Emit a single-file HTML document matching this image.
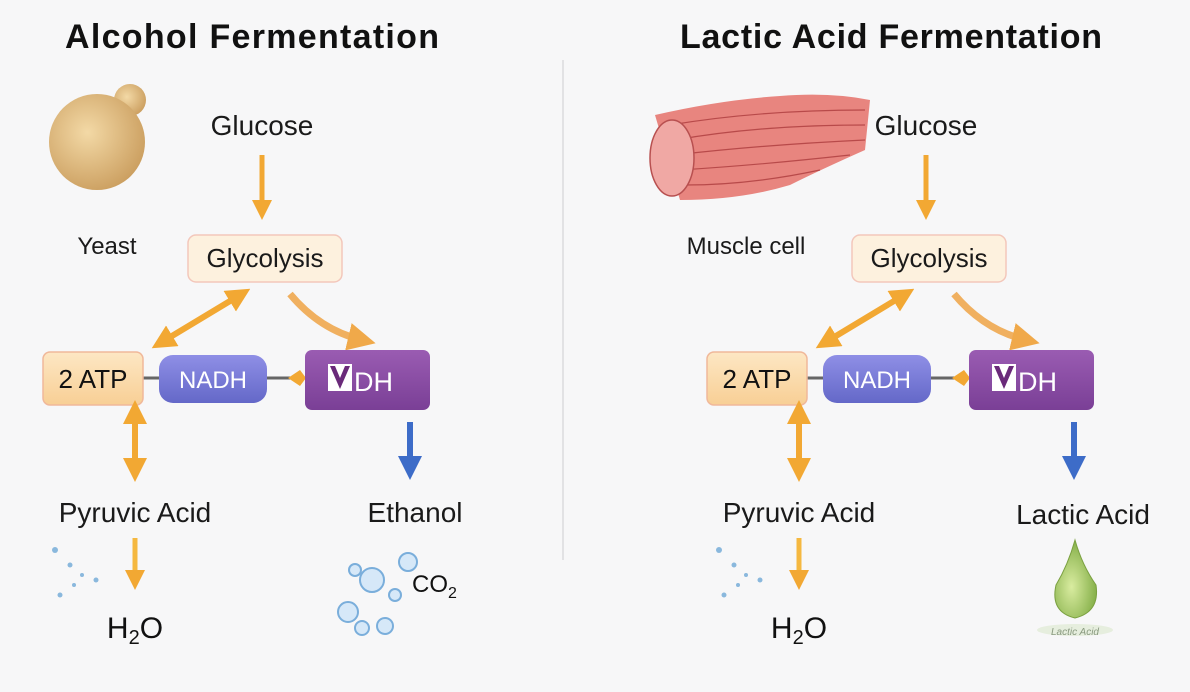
<!DOCTYPE html>
<html><head><meta charset="utf-8"><style>
html,body{margin:0;padding:0;background:#f7f7f8;}
svg{display:block;font-family:"Liberation Sans","DejaVu Sans",sans-serif;}
</style></head><body>
<svg width="1190" height="692" viewBox="0 0 1190 692" xmlns="http://www.w3.org/2000/svg">
<defs>
<linearGradient id="atp" x1="0" y1="0" x2="0" y2="1"><stop offset="0" stop-color="#fde7c4"/><stop offset="1" stop-color="#f8cf95"/></linearGradient>
<linearGradient id="nadh" x1="0" y1="0" x2="0" y2="1"><stop offset="0" stop-color="#8f8fe6"/><stop offset="1" stop-color="#6468c8"/></linearGradient>
<linearGradient id="vdh" x1="0" y1="0" x2="0" y2="1"><stop offset="0" stop-color="#9a5cb2"/><stop offset="1" stop-color="#7a3f96"/></linearGradient>
<radialGradient id="yeast" cx="0.4" cy="0.4" r="0.7"><stop offset="0" stop-color="#f3d9a6"/><stop offset="1" stop-color="#c89a5a"/></radialGradient>
<radialGradient id="drop" cx="0.4" cy="0.6" r="0.6"><stop offset="0" stop-color="#d9eca0"/><stop offset="1" stop-color="#86b04a"/></radialGradient>
<marker id="ah" markerWidth="4" markerHeight="4" refX="2" refY="2" orient="auto" markerUnits="strokeWidth"><path d="M0,0 L4,2 L0,4 z" fill="#f2a833"/></marker>
<marker id="ahs" markerWidth="4" markerHeight="4" refX="2" refY="2" orient="auto-start-reverse" markerUnits="strokeWidth"><path d="M0,0 L4,2 L0,4 z" fill="#f2a833"/></marker>
<marker id="ahl" markerWidth="4" markerHeight="4" refX="2" refY="2" orient="auto" markerUnits="strokeWidth"><path d="M0,0 L4,2 L0,4 z" fill="#f0a94a"/></marker>
<marker id="ahb" markerWidth="4" markerHeight="4" refX="2" refY="2" orient="auto" markerUnits="strokeWidth"><path d="M0,0 L4,2 L0,4 z" fill="#3d6cc8"/></marker>
<g id="core">
  <text x="262" y="135" font-size="28" text-anchor="middle" fill="#1a1a1a">Glucose</text>
  <line x1="262" y1="155" x2="262" y2="210" stroke="#f2a833" stroke-width="5" marker-end="url(#ah)"/>
  <rect x="188" y="235" width="154" height="47" rx="8" fill="#fdf1de" stroke="#f3c7bb" stroke-width="1.5"/>
  <text x="265" y="267" font-size="26" text-anchor="middle" fill="#1a1a1a">Glycolysis</text>
  <line x1="240" y1="295" x2="162" y2="342" stroke="#f2a833" stroke-width="6" marker-end="url(#ahs)" marker-start="url(#ahs)"/>
  <path d="M290,294 Q320,330 362,340" fill="none" stroke="#f0b060" stroke-width="7" marker-end="url(#ahl)"/>
  <line x1="140" y1="378" x2="315" y2="378" stroke="#666" stroke-width="3"/>
  <rect x="43" y="352" width="100" height="53" rx="7" fill="url(#atp)" stroke="#f0b89a" stroke-width="1.5"/>
  <text x="93" y="388" font-size="26" text-anchor="middle" fill="#111">2 ATP</text>
  <rect x="159" y="355" width="108" height="48" rx="14" fill="url(#nadh)"/>
  <text x="213" y="388" font-size="24" text-anchor="middle" fill="#fff">NADH</text>
  <path d="M288,378 L300,370 L306,378 L300,386 z" fill="#f2a833"/>
  <rect x="305" y="350" width="125" height="60" rx="7" fill="url(#vdh)"/>
  <rect x="328" y="364" width="24" height="27" fill="#fff"/>
  <path d="M330,366 L340,389 L350,366 L345,366 L340,378 L335,366 z" fill="#6a2a7a"/>
  <text x="354" y="391" font-size="27" fill="#fff">DH</text>
  <line x1="135" y1="412" x2="135" y2="470" stroke="#f2a833" stroke-width="6" marker-end="url(#ah)" marker-start="url(#ahs)"/>
  <text x="135" y="522" font-size="28" text-anchor="middle" fill="#1a1a1a">Pyruvic Acid</text>
  <line x1="135" y1="538" x2="135" y2="580" stroke="#f5b840" stroke-width="5" marker-end="url(#ah)"/>
  <text x="135" y="638" font-size="30" text-anchor="middle" fill="#111">H<tspan font-size="20" dy="6">2</tspan><tspan dy="-6">O</tspan></text>
  <g fill="#8ab8dd"><circle cx="55" cy="550" r="3"/><circle cx="70" cy="565" r="2.5"/><circle cx="82" cy="575" r="2"/><circle cx="96" cy="580" r="2.5"/><circle cx="60" cy="595" r="2.5"/><circle cx="74" cy="585" r="2"/></g>
  <line x1="410" y1="422" x2="410" y2="468" stroke="#3d6cc8" stroke-width="6" marker-end="url(#ahb)"/>
</g>
</defs>
<line x1="563" y1="60" x2="563" y2="560" stroke="#e2e2e4" stroke-width="2"/>
<text x="252" y="48" font-size="34" font-weight="bold" text-anchor="middle" fill="#111" textLength="374">Alcohol Fermentation</text>
<text x="891" y="48" font-size="34" font-weight="bold" text-anchor="middle" fill="#111" textLength="422">Lactic Acid Fermentation</text>
<use href="#core"/>
<use href="#core" transform="translate(664,0)"/>
<!-- yeast -->
<circle cx="130" cy="100" r="16" fill="url(#yeast)"/>
<ellipse cx="97" cy="142" rx="48" ry="48" fill="url(#yeast)"/>
<text x="107" y="254" font-size="24" text-anchor="middle" fill="#1a1a1a">Yeast</text>
<text x="415" y="522" font-size="28" text-anchor="middle" fill="#1a1a1a">Ethanol</text>
<g fill="#d6e8f8" stroke="#7aaedb" stroke-width="2"><circle cx="372" cy="580" r="12"/><circle cx="408" cy="562" r="9"/><circle cx="348" cy="612" r="10"/><circle cx="362" cy="628" r="7"/><circle cx="385" cy="626" r="8"/><circle cx="395" cy="595" r="6"/><circle cx="355" cy="570" r="6"/></g>
<text x="412" y="592" font-size="24" fill="#111">CO<tspan font-size="16" dy="6">2</tspan></text>
<!-- muscle -->
<path d="M655,115 Q720,100 780,96 Q830,92 870,100 L865,150 Q820,170 790,185 Q740,200 680,200 Z" fill="#e8857f"/>
<g stroke="#b84a4a" stroke-width="1.2" fill="none"><path d="M670,125 Q760,110 865,110"/><path d="M675,140 Q760,125 865,125"/><path d="M675,155 Q760,145 865,140"/><path d="M680,170 Q760,165 850,155"/><path d="M685,185 Q750,185 820,170"/></g>
<ellipse cx="672" cy="158" rx="22" ry="38" fill="#f0a8a4" stroke="#b85050" stroke-width="1.5"/>
<text x="746" y="254" font-size="24" text-anchor="middle" fill="#1a1a1a">Muscle cell</text>
<text x="1083" y="524" font-size="28" text-anchor="middle" fill="#1a1a1a">Lactic Acid</text>
<path d="M1075,540 Q1068,565 1056,585 Q1050,612 1075,618 Q1100,612 1096,585 Q1082,565 1075,540 Z" fill="url(#drop)" stroke="#7aa040" stroke-width="1"/>
<ellipse cx="1075" cy="630" rx="38" ry="6" fill="#e6eede"/>
<text x="1075" y="635" font-size="10" font-style="italic" text-anchor="middle" fill="#8a9a80">Lactic Acid</text>
</svg>
</body></html>
